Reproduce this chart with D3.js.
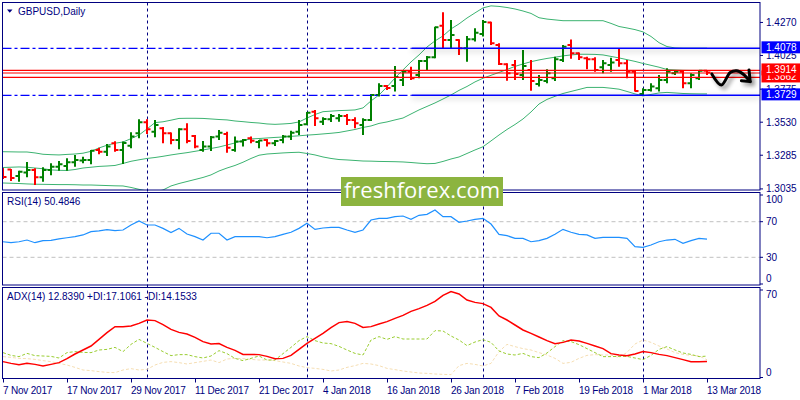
<!DOCTYPE html>
<html><head><meta charset="utf-8">
<script src="https://cdn.jsdelivr.net/npm/d3@7"></script>
<style>
html,body{margin:0;padding:0;background:#fff;}
svg{display:block;font-family:"Liberation Sans",Arial,sans-serif;}
</style></head><body>
<svg id="c" width="800" height="400"></svg>
<script>
// ---------------- data (GBPUSD daily, 7 Nov 2017 - 13 Mar 2018) ----------------
const dateLabels = ["7 Nov 2017","17 Nov 2017","29 Nov 2017","11 Dec 2017","21 Dec 2017","4 Jan 2018","16 Jan 2018","26 Jan 2018","7 Feb 2018","19 Feb 2018","1 Mar 2018","13 Mar 2018"];
const dateLabelStep = 8;
const monthStarts = [18, 38, 60, 80];

const open = [
1.3176,1.3179,1.3131,1.3156,1.3176,1.3121,1.3176,1.3200,1.3205,1.3233,
1.3245,1.3250,1.3324,1.3311,1.3374,1.3324,1.3356,1.3448,1.3530,1.3460,
1.3485,1.3448,1.3398,1.3478,1.3428,1.3324,1.3349,1.3423,1.3443,1.3324,
1.3386,1.3411,1.3383,1.3398,1.3374,1.3398,1.3423,1.3460,1.3515,1.3608,
1.3534,1.3552,1.3559,1.3576,1.3547,1.3510,1.3547,1.3732,1.3799,1.3799,
1.3843,1.3905,1.3881,1.3984,1.4012,1.4246,1.4140,1.4140,1.4079,1.4145,
1.4185,1.4269,1.4103,1.3960,1.3955,1.3881,1.3918,1.3814,1.3836,1.3856,
1.3992,1.4103,1.4042,1.4004,1.3997,1.3938,1.3955,1.3992,1.3967,1.3905,
1.3740,1.3769,1.3782,1.3843,1.3893,1.3905,1.3819,1.3856,1.3912];
const high = [
1.3190,1.3183,1.3170,1.3235,1.3188,1.3196,1.3225,1.3242,1.3262,1.3287,
1.3274,1.3324,1.3341,1.3369,1.3389,1.3386,1.3455,1.3552,1.3552,1.3547,
1.3495,1.3454,1.3485,1.3522,1.3435,1.3391,1.3428,1.3472,1.3460,1.3423,
1.3406,1.3423,1.3398,1.3406,1.3398,1.3435,1.3467,1.3547,1.3606,1.3621,
1.3567,1.3591,1.3591,1.3591,1.3567,1.3559,1.3740,1.3819,1.3806,1.3947,
1.3918,1.3942,1.3992,1.4021,1.4239,1.4346,1.4289,1.4145,1.4170,1.4227,
1.4289,1.4276,1.4116,1.3967,1.3992,1.4066,1.3992,1.3881,1.3923,1.4016,
1.4103,1.4144,1.4047,1.4016,1.4012,1.3992,1.4009,1.4073,1.3992,1.3918,
1.3782,1.3819,1.3881,1.3930,1.3918,1.3918,1.3893,1.3918,1.3918];
const low = [
1.3109,1.3094,1.3089,1.3121,1.3064,1.3089,1.3136,1.3170,1.3170,1.3200,
1.3225,1.3218,1.3292,1.3279,1.3311,1.3220,1.3337,1.3411,1.3443,1.3418,
1.3374,1.3366,1.3329,1.3374,1.3337,1.3311,1.3317,1.3398,1.3304,1.3311,
1.3349,1.3374,1.3337,1.3349,1.3354,1.3374,1.3398,1.3435,1.3510,1.3502,
1.3510,1.3532,1.3534,1.3510,1.3485,1.3435,1.3539,1.3720,1.3769,1.3757,
1.3799,1.3843,1.3856,1.3912,1.4004,1.4079,1.4079,1.4029,1.3979,1.4128,
1.4165,1.4103,1.3955,1.3838,1.3843,1.3843,1.3764,1.3794,1.3819,1.3836,
1.3977,1.4000,1.3992,1.3923,1.3905,1.3893,1.3905,1.3942,1.3856,1.3757,
1.3725,1.3757,1.3757,1.3819,1.3881,1.3782,1.3782,1.3843,1.3881];
const close = [
1.3124,1.3116,1.3163,1.3176,1.3121,1.3176,1.3200,1.3218,1.3233,1.3250,
1.3250,1.3319,1.3311,1.3349,1.3324,1.3376,1.3423,1.3530,1.3478,1.3510,
1.3448,1.3398,1.3478,1.3391,1.3349,1.3349,1.3418,1.3452,1.3341,1.3386,
1.3398,1.3393,1.3395,1.3374,1.3391,1.3423,1.3452,1.3510,1.3601,1.3559,
1.3554,1.3576,1.3576,1.3547,1.3522,1.3547,1.3732,1.3799,1.3784,1.3866,
1.3905,1.3856,1.3984,1.4012,1.4234,1.4140,1.4177,1.4079,1.4145,1.4194,
1.4274,1.4116,1.3962,1.3893,1.3888,1.3947,1.3836,1.3843,1.3893,1.3997,
1.4090,1.4042,1.4012,1.3997,1.3918,1.3967,1.3972,1.3967,1.3905,1.3762,
1.3769,1.3794,1.3843,1.3905,1.3905,1.3819,1.3881,1.3912,1.3898];

const bbUpper = [
1.3311,1.3310,1.3309,1.3309,1.3302,1.3292,1.3289,1.3287,1.3291,1.3294,
1.3300,1.3314,1.3339,1.3359,1.3374,1.3383,1.3408,1.3435,1.3480,1.3527,
1.3533,1.3545,1.3558,1.3559,1.3559,1.3558,1.3554,1.3550,1.3547,1.3539,
1.3534,1.3528,1.3524,1.3517,1.3514,1.3517,1.3521,1.3532,1.3561,1.3587,
1.3608,1.3612,1.3616,1.3618,1.3621,1.3636,1.3688,1.3732,1.3792,1.3858,
1.3918,1.3977,1.4029,1.4088,1.4133,1.4170,1.4222,1.4259,1.4303,1.4341,
1.4378,1.4393,1.4389,1.4381,1.4370,1.4355,1.4337,1.4305,1.4295,1.4289,
1.4283,1.4283,1.4283,1.4283,1.4283,1.4283,1.4263,1.4240,1.4229,1.4217,
1.4200,1.4166,1.4120,1.4091,1.4081,1.4079,1.4079,1.4079,1.4079];
const bbMiddle = [
1.3194,1.3196,1.3198,1.3196,1.3190,1.3185,1.3176,1.3173,1.3172,1.3179,
1.3190,1.3196,1.3202,1.3205,1.3209,1.3224,1.3240,1.3251,1.3261,1.3268,
1.3277,1.3287,1.3296,1.3304,1.3314,1.3324,1.3335,1.3346,1.3361,1.3376,
1.3395,1.3406,1.3409,1.3413,1.3417,1.3420,1.3425,1.3429,1.3434,1.3438,
1.3443,1.3448,1.3454,1.3465,1.3476,1.3491,1.3502,1.3521,1.3532,1.3547,
1.3561,1.3591,1.3621,1.3647,1.3673,1.3702,1.3732,1.3766,1.3795,1.3829,
1.3856,1.3878,1.3899,1.3921,1.3944,1.3962,1.3979,1.3992,1.4003,1.4012,
1.4022,1.4029,1.4034,1.4034,1.4033,1.4029,1.4018,1.4007,1.3994,1.3981,
1.3966,1.3952,1.3938,1.3921,1.3918,1.3915,1.3914,1.3914,1.3914];
const bbLower = [
1.3079,1.3077,1.3075,1.3072,1.3070,1.3069,1.3068,1.3067,1.3067,1.3066,
1.3064,1.3064,1.3062,1.3060,1.3058,1.3057,1.3046,1.3032,1.3020,1.3012,
1.3027,1.3057,1.3075,1.3090,1.3105,1.3120,1.3139,1.3168,1.3190,1.3209,
1.3233,1.3261,1.3285,1.3294,1.3298,1.3302,1.3305,1.3307,1.3298,1.3287,
1.3272,1.3261,1.3253,1.3250,1.3246,1.3242,1.3241,1.3239,1.3238,1.3237,
1.3235,1.3231,1.3226,1.3222,1.3224,1.3239,1.3257,1.3272,1.3298,1.3324,
1.3348,1.3391,1.3435,1.3476,1.3513,1.3554,1.3606,1.3665,1.3699,1.3722,
1.3743,1.3758,1.3773,1.3788,1.3788,1.3788,1.3782,1.3775,1.3758,1.3740,
1.3725,1.3736,1.3747,1.3751,1.3747,1.3743,1.3741,1.3740,1.3740];

const rsi = [
47.5,46.4,47.5,49.4,46.4,48.7,49.1,50.6,52.0,53.2,
55.1,58.8,59.6,61.0,59.9,60.7,66.3,70.8,66.3,66.3,
62.5,57.7,62.5,56.2,53.2,49.4,57.0,57.0,49.4,53.2,
53.2,53.2,53.2,52.0,53.2,55.8,58.1,62.5,68.2,61.4,
62.9,63.7,63.7,60.7,58.1,60.7,71.9,73.8,73.8,75.6,
76.4,72.7,77.2,78.3,83.1,75.6,75.6,69.3,70.8,72.7,
73.8,67.4,55.8,54.3,51.3,51.3,47.5,48.7,51.3,55.8,
61.4,58.1,55.8,55.1,51.3,52.4,52.4,52.4,51.3,41.9,
41.2,43.8,47.5,49.4,50.2,45.7,48.7,51.3,50.5];
const adx = [
12.7,11.3,10.3,11.3,10.5,9.2,10.5,11.9,15.1,18.8,
22.0,25.2,30.5,35.9,40.7,40.7,41.2,43.3,46.0,45.5,
42.3,38.5,36.1,34.8,32.1,28.7,26.8,27.1,24.1,21.7,
18.5,18.5,18.3,16.9,15.1,15.3,17.7,22.5,27.3,31.3,
35.3,39.9,43.9,44.7,43.3,40.1,40.7,42.8,44.7,47.3,
49.7,52.9,55.1,57.7,60.9,65.7,68.7,66.8,62.0,60.1,
59.1,56.1,49.2,46.0,42.0,38.0,35.3,32.4,29.5,27.1,
28.1,30.0,29.2,27.3,25.2,23.1,19.1,18.0,17.5,18.8,
20.7,19.9,18.5,17.5,15.9,14.3,12.7,12.7,12.8];
const plusDI = [
19.9,17.7,16.7,19.3,17.5,17.2,16.9,15.6,19.9,20.7,
20.1,19.9,22.0,22.5,24.1,20.7,26.5,30.5,27.3,24.1,
20.7,17.5,18.3,18.3,16.7,15.6,17.2,21.5,19.1,15.3,
13.5,15.3,17.2,14.0,14.0,19.1,24.1,29.5,32.7,29.5,
27.6,27.1,24.9,22.0,19.3,18.0,30.0,32.7,30.5,32.7,
30.8,30.8,30.8,30.8,37.5,37.2,33.2,30.0,25.5,28.4,
30.3,28.1,21.2,18.8,18.0,19.3,16.7,15.9,19.6,24.7,
29.5,28.7,26.3,23.1,19.9,16.7,16.7,16.9,16.9,15.6,
14.3,17.7,22.5,24.7,22.0,19.6,18.5,16.7,17.1];
const minusDI = [
16.7,16.1,15.3,15.1,14.5,13.5,12.7,11.3,10.0,8.1,
6.0,5.5,4.7,4.1,3.9,6.0,7.1,6.0,6.5,10.0,
12.1,12.7,11.9,10.8,11.9,12.9,14.0,11.9,14.8,15.3,
15.1,14.5,14.0,14.0,13.5,12.4,11.3,9.2,7.9,7.3,
6.5,5.2,6.0,8.1,9.5,11.3,10.8,9.5,7.3,6.3,
5.2,4.4,3.6,3.3,2.8,2.5,2.3,9.5,11.3,10.5,
9.2,11.3,20.7,26.5,24.7,23.1,22.0,19.9,18.0,15.3,
11.3,12.1,15.3,17.7,18.3,18.0,18.0,15.9,20.1,26.8,
30.0,28.1,25.2,22.8,19.9,18.5,17.7,17.2,14.2];

const priceTicks = [1.4270, 1.4025, 1.3775, 1.3530, 1.3285, 1.3035];
const rsiTicks = [100, 70, 30, 0];
const rsiLevels = [70, 30];
const adxTicks = [70, 0];
const blueLevels = [1.4078, 1.3729];
const blueSolidFrom = 51.1;          // bar index where the levels turn solid
const redLevels = [1.3914, 1.3895, 1.3862];
const priceBoxes = [
  {v:1.3862, c:"#ff0000"}, {v:1.3914, c:"#ff0000"},
  {v:1.4078, c:"#0000ff"}, {v:1.3729, c:"#0000ff"}];
// hand-drawn forecast arrow (bar index, price)
const arrowPath = [[88.6,1.3888],[89.8,1.3806],[90.9,1.3898],[91.7,1.3912],[92.5,1.3888],[93.4,1.3831]];
const arrowHead = [[93.25,1.3918],[93.4,1.3831],[92.3,1.3838]];

// ---------------- layout ----------------
const NAVY = "#000080";
const L = 2.5, R = 760;
const P = {main:[2.5,190], rsi:[192.5,285], adx:[287.5,378.5]};
const n = open.length;

const x = d3.scaleLinear().domain([0, 88]).range([3, 707]);
const y = d3.scaleLinear().domain([1.3027, 1.4418]).range([190, 2.5]);
const yR = d3.scaleLinear().domain([0, 100]).range([284, 195]);
const yA = d3.scaleLinear().domain([0, 72]).range([377.5, 287.5]);

const svg = d3.select("#c");
const defs = svg.append("defs");
Object.entries(P).forEach(([k,[t,b]]) => {
  defs.append("clipPath").attr("id","clip-"+k).append("rect")
    .attr("x",L).attr("y",t).attr("width",R-L).attr("height",b-t);
});
function shadow(id, dx, dy, sd, a){
  const f = defs.append("filter").attr("id",id).attr("filterUnits","userSpaceOnUse")
    .attr("x",0).attr("y",0).attr("width",800).attr("height",400);
  f.append("feGaussianBlur").attr("in","SourceAlpha").attr("stdDeviation",sd);
  f.append("feOffset").attr("dx",dx).attr("dy",dy).attr("result","o");
  const ct = f.append("feComponentTransfer").attr("in","o").attr("result","s");
  ct.append("feFuncA").attr("type","linear").attr("slope",a);
  const m = f.append("feMerge");
  m.append("feMergeNode").attr("in","s");
  m.append("feMergeNode").attr("in","SourceGraphic");
}
shadow("shLine", 0, 2, 3, 0.35);
shadow("shArrow", 3, 3, 2, 0.45);

// separators (under everything)
svg.append("g").selectAll("line").data(monthStarts).join("line")
  .attr("x1", d => x(d) + 0.5).attr("x2", d => x(d) + 0.5)
  .attr("y1", P.main[0]).attr("y2", P.adx[1])
  .attr("stroke", NAVY).attr("stroke-width",1).attr("stroke-dasharray","3,3");

// ---------- main panel ----------
const gM = svg.append("g").attr("clip-path","url(#clip-main)");

// Bollinger bands
const bandLine = arr => d3.line().x((d,i)=>x(i)).y(d=>y(d))(arr);
[bbUpper, bbMiddle, bbLower].forEach(arr => {
  gM.append("path").attr("d", bandLine(arr)).attr("fill","none")
    .attr("stroke","#3cb371").attr("stroke-width",1);
});

// OHLC bars
const bars = gM.append("g").selectAll("g").data(d3.range(n)).join("g")
  .attr("stroke", i => close[i] >= open[i] ? "#008000" : "#ff0000")
  .attr("stroke-width", 2);
bars.append("line").attr("x1", i=>x(i)).attr("x2", i=>x(i))
  .attr("y1", i=>y(high[i])).attr("y2", i=>y(low[i]));
bars.append("line").attr("x1", i=>x(i)-3.5).attr("x2", i=>x(i))
  .attr("y1", i=>y(open[i])).attr("y2", i=>y(open[i]));
bars.append("line").attr("x1", i=>x(i)).attr("x2", i=>x(i)+3.5)
  .attr("y1", i=>y(close[i])).attr("y2", i=>y(close[i]));

// blue levels: dash-dot part then solid part with shadow
gM.append("g").selectAll("line").data(blueLevels).join("line")
  .attr("x1", L).attr("x2", x(blueSolidFrom))
  .attr("y1", d=>y(d)).attr("y2", d=>y(d))
  .attr("stroke","#0000ff").attr("stroke-width",1.2).attr("stroke-dasharray","9,3,3,3");
gM.append("g").attr("filter","url(#shLine)").selectAll("line").data(blueLevels).join("line")
  .attr("x1", x(blueSolidFrom)).attr("x2", R)
  .attr("y1", d=>y(d)).attr("y2", d=>y(d))
  .attr("stroke","#0000ff").attr("stroke-width",1.5);

// red levels
gM.append("g").selectAll("line").data(redLevels).join("line")
  .attr("x1", L).attr("x2", R)
  .attr("y1", d=>y(d)).attr("y2", d=>y(d))
  .attr("stroke","#ff0000").attr("stroke-width",1.2);

// forecast arrow
const gA = gM.append("g").attr("filter","url(#shArrow)").attr("fill","none")
  .attr("stroke","#000").attr("stroke-width",3).attr("stroke-linecap","round").attr("stroke-linejoin","round");
gA.append("path").attr("d", d3.line().x(d=>x(d[0])).y(d=>y(d[1])).curve(d3.curveCatmullRom)(arrowPath));
gA.append("path").attr("d", d3.line().x(d=>x(d[0])).y(d=>y(d[1]))(arrowHead));

// ---------- RSI panel ----------
const gR = svg.append("g").attr("clip-path","url(#clip-rsi)");
gR.selectAll("line.lvl").data(rsiLevels).join("line").attr("class","lvl")
  .attr("x1", L).attr("x2", R).attr("y1", d=>yR(d)).attr("y2", d=>yR(d))
  .attr("stroke","#c0c0c0").attr("stroke-width",1).attr("stroke-dasharray","4,3");
gR.append("path").attr("d", d3.line().x((d,i)=>x(i)).y(d=>yR(d))(rsi))
  .attr("fill","none").attr("stroke","#1e90ff").attr("stroke-width",1.2);

// ---------- ADX panel ----------
const gX = svg.append("g").attr("clip-path","url(#clip-adx)");
const aLine = d3.line().x((d,i)=>x(i)).y(d=>yA(d));
gX.append("path").attr("d", aLine(minusDI)).attr("fill","none")
  .attr("stroke","#f5deb3").attr("stroke-width",1).attr("stroke-dasharray","3,2");
gX.append("path").attr("d", aLine(plusDI)).attr("fill","none")
  .attr("stroke","#9acd32").attr("stroke-width",1).attr("stroke-dasharray","3,2");
gX.append("path").attr("d", aLine(adx)).attr("fill","none")
  .attr("stroke","#ff0000").attr("stroke-width",1.5);

// ---------- frames ----------
Object.values(P).forEach(([t,b]) => {
  svg.append("rect").attr("x",L).attr("y",t).attr("width",R-L).attr("height",b-t)
    .attr("fill","none").attr("stroke",NAVY).attr("stroke-width",1);
});

// ---------- right axes ----------
const fs = 10;
function rightAxis(scale, ticks, fmt, off){
  const g = svg.append("g");
  g.selectAll("line").data(ticks).join("line")
    .attr("x1", R).attr("x2", R+3).attr("y1", d=>scale(d)).attr("y2", d=>scale(d))
    .attr("stroke", NAVY);
  g.selectAll("text").data(ticks).join("text")
    .attr("x", R+6).attr("y", d=>scale(d) + (off ? off(d) : 0))
    .attr("dy","0.35em").attr("font-size",fs).attr("fill",NAVY).text(fmt);
}
rightAxis(y, priceTicks, d=>d.toFixed(4));
rightAxis(yR, rsiTicks, d=>d, d => d===100 ? 4 : (d===0 ? -5.5 : 0));
rightAxis(yA, adxTicks, d=>d, d => d===70 ? 4.5 : -5);

// price boxes (drawn over the regular tick labels, as in the terminal)
const gB = svg.append("g");
priceBoxes.forEach(b => {
  gB.append("rect").attr("x", R+1.5).attr("y", y(b.v)-7).attr("width", 800-R-1.5).attr("height", 12)
    .attr("fill", b.c);
  gB.append("text").attr("x", R+6).attr("y", y(b.v)-1).attr("dy","0.35em")
    .attr("font-size",fs).attr("fill","#fff").text(b.v.toFixed(4));
});

// ---------- time axis ----------
const dateIdx = dateLabels.map((d,k)=>k*dateLabelStep);
const gT = svg.append("g");
gT.selectAll("line").data(dateIdx).join("line")
  .attr("x1", i=>x(i)+0.5).attr("x2", i=>x(i)+0.5).attr("y1", P.adx[1]).attr("y2", P.adx[1]+4)
  .attr("stroke", NAVY);
gT.selectAll("text").data(dateIdx).join("text")
  .attr("x", i=>x(i)).attr("y", 394).attr("font-size",fs).attr("fill",NAVY)
  .attr("letter-spacing","-0.2")
  .text((i,k)=>dateLabels[k]);

// ---------- titles ----------
svg.append("path").attr("d","M7,9.5 L12.5,9.5 L9.75,12.7 Z").attr("fill",NAVY);
svg.append("text").attr("x",18).attr("y",15).attr("font-size",fs).attr("fill",NAVY).text("GBPUSD,Daily");
svg.append("text").attr("x",7).attr("y",205).attr("font-size",fs).attr("fill",NAVY)
  .text("RSI(14) " + "50.4846");
svg.append("text").attr("x",7).attr("y",300).attr("font-size",fs).attr("fill",NAVY)
  .text("ADX(14) 12.8390 +DI:17.1061 -DI:14.1533");

// ---------- watermark ----------
svg.append("rect").attr("x",341).attr("y",177).attr("width",162).attr("height",29).attr("fill","#8cb43f");
svg.append("text").attr("x",422).attr("y",197.5).attr("text-anchor","middle")
  .attr("font-family","'Open Sans',sans-serif").attr("font-size",22).attr("fill","#fff")
  .text("freshforex.com");
</script>
</body></html>
